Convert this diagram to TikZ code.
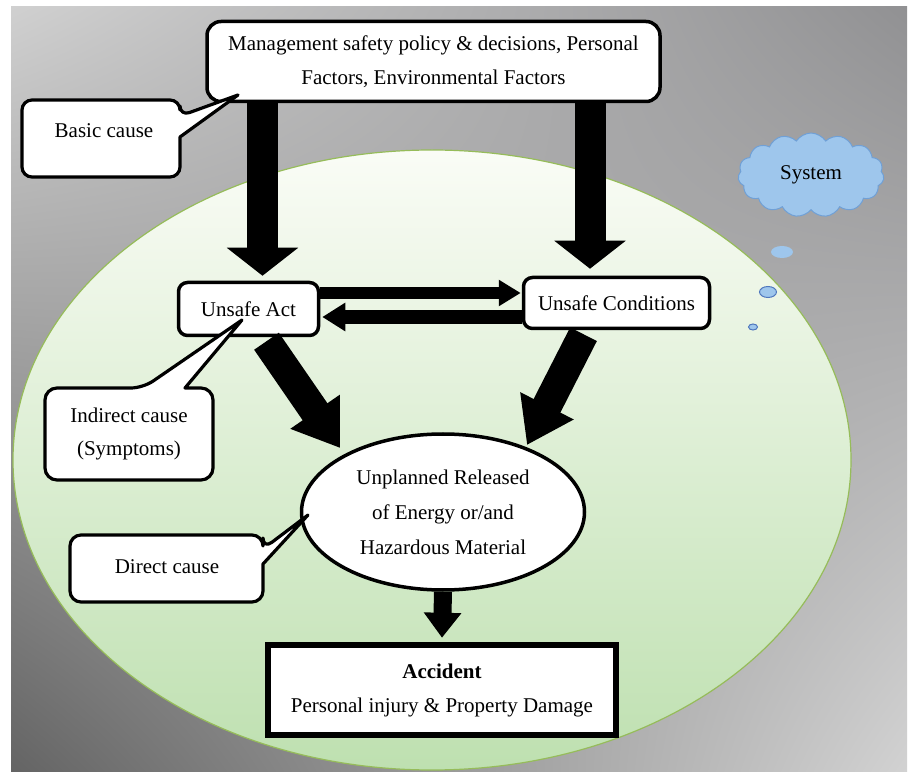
\documentclass[tikz,border=0pt]{standalone}
\usepackage{fontspec}
\setmainfont{Liberation Serif}
\usetikzlibrary{arrows.meta,shapes.geometric,shapes.symbols,shadings}
\definecolor{bgUL}{RGB}{208,208,208}
\definecolor{bgUR}{RGB}{145,145,147}
\definecolor{bgLL}{RGB}{100,100,100}
\definecolor{bgLR}{RGB}{210,210,210}
\definecolor{ellTop}{RGB}{250,252,246}
\definecolor{ellMid}{RGB}{228,241,218}
\definecolor{ellBot}{RGB}{190,224,176}
\definecolor{ellEdge}{RGB}{150,188,90}
\definecolor{cloudFill}{RGB}{158,198,236}
\definecolor{cloudEdge}{RGB}{112,160,214}
\definecolor{bubbleEdge}{RGB}{80,120,190}
\begin{document}
\begin{tikzpicture}[x=1pt,y=-1pt,
  txt/.style={font=\fontsize{21}{34}\selectfont},
  box/.style={txt, draw, line width=3.5pt, rounded corners=12pt, fill=white, align=center, inner sep=0pt},
  calltext/.style={txt, align=center, inner sep=0pt},
  callout/.style={draw, line width=3.2pt, fill=white, line join=round},
  vArrow/.style={line width=31pt, -{Triangle[length=28pt,width=70pt]}},
  dArrow/.style={line width=30pt, -{Triangle[length=44pt,width=57pt]}},
  hArrowA/.style={line width=12pt, -{Triangle[length=22pt,width=25pt]}},
  hArrowB/.style={line width=14pt, -{Triangle[length=23pt,width=27pt]}},
  sArrow/.style={line width=18pt, -{Triangle[length=25pt,width=36pt]}},
  bubble/.style={fill=cloudFill, draw=bubbleEdge, line width=1pt}
]
\useasboundingbox (0,0) rectangle (911,775);
\fill[white] (0,0) rectangle (911,775);
% background frame
\shade[upper left=bgUL, upper right=bgUR, lower left=bgLL, lower right=bgLR] (11,7) rectangle (907,771);
% green system ellipse
\begin{scope}
\clip (11,7) rectangle (907,771);
\shade[top color=ellTop, middle color=ellMid, bottom color=ellBot] (432,460) ellipse [x radius=419, y radius=310];
\draw[ellEdge, line width=1.2pt] (432,460) ellipse [x radius=419, y radius=310];
\end{scope}

% cloud and thought bubbles
\node[cloud, cloud puffs=15, cloud puff arc=115, aspect=1.75, minimum width=146pt, minimum height=84pt,
  fill=cloudFill, draw=cloudEdge, line width=1pt, inner sep=0pt, txt] (sys) at (811,175) {System};
\fill[cloudFill] (782,252) ellipse [x radius=11, y radius=6];
\draw[bubble] (768,292) ellipse [x radius=8.5, y radius=5.5];
\draw[bubble] (753,327) ellipse [x radius=4.5, y radius=3];

% main nodes
\node[box, rounded corners=14pt, minimum width=453pt, minimum height=80pt] (top) at (433.5,61.5)
  {Management safety policy \& decisions, Personal\\Factors, Environmental Factors};
\node[box, rounded corners=9pt, minimum width=140pt, minimum height=53pt] (ua) at (248.5,309) {Unsafe Act};
\node[box, rounded corners=9pt, minimum width=186pt, minimum height=51pt] (uc) at (616.5,303) {Unsafe Conditions};
\node[draw, ellipse, line width=3.5pt, fill=white, minimum width=283pt, minimum height=156pt, align=center,
  font=\fontsize{21}{35}\selectfont, inner sep=0pt] (en) at (443,512)
  {Unplanned Released\\of Energy or/and\\Hazardous Material};
\node[draw, line width=6.5pt, fill=white, minimum width=348pt, minimum height=90pt, align=center,
  txt, inner sep=0pt] (acc) at (442,690)
  {\textbf{Accident}\\Personal injury \& Property Damage};

% arrows
\coordinate (vL) at ([xshift=14pt]ua.north);
\coordinate (vR) at ([xshift=-26.5pt]uc.north);
\draw[vArrow] (vL |- top.south) -- ([yshift=5pt]vL);
\draw[vArrow] (vR |- top.south) -- ([yshift=7pt]vR);
\coordinate (hA) at ([yshift=16pt]ua.east);
\coordinate (hB) at ([yshift=-8pt]ua.east);
\draw[hArrowA] (hA) -- ([xshift=-1pt]hA -| uc.west);
\draw[hArrowB] (hB -| uc.west) -- ([xshift=2pt]hB);
\draw[dArrow] ([xshift=18pt,yshift=-4pt]ua.south) -- ([xshift=-103pt,yshift=64pt]en.center);
\draw[dArrow] ([xshift=-33pt,yshift=-4pt]uc.south) -- ([xshift=84pt,yshift=67pt]en.center);
\draw[sArrow] (en.south) -- ([yshift=4pt]acc.north);

% callouts
\draw[callout] (100,100) [rounded corners=10pt] -- (180,100) -- (180,116) [sharp corners] -- (238,95) -- (180,137) [rounded corners=10pt] -- (180,177) -- (22,177) -- (22,100) -- cycle;
\node[calltext] (bc) at (104,131) {Basic cause};

\draw[callout] (45,434) [rounded corners=12pt] -- (45,388) -- (143,388) [sharp corners] -- (242,320) -- (185,388) [rounded corners=12pt] -- (213,388) -- (213,480) -- (45,480) -- cycle;
\node[calltext, font=\fontsize{21}{33}\selectfont] (ic) at (129,434) {Indirect cause\\(Symptoms)};

\draw[callout] (166,535) [rounded corners=11pt] -- (263,535) -- (263,549) [sharp corners] -- (308,515) -- (263,564) [rounded corners=11pt] -- (263,602) -- (70,602) -- (70,535) -- cycle;
\node[calltext] (dc) at (167,567) {Direct cause};
\end{tikzpicture}
\end{document}
